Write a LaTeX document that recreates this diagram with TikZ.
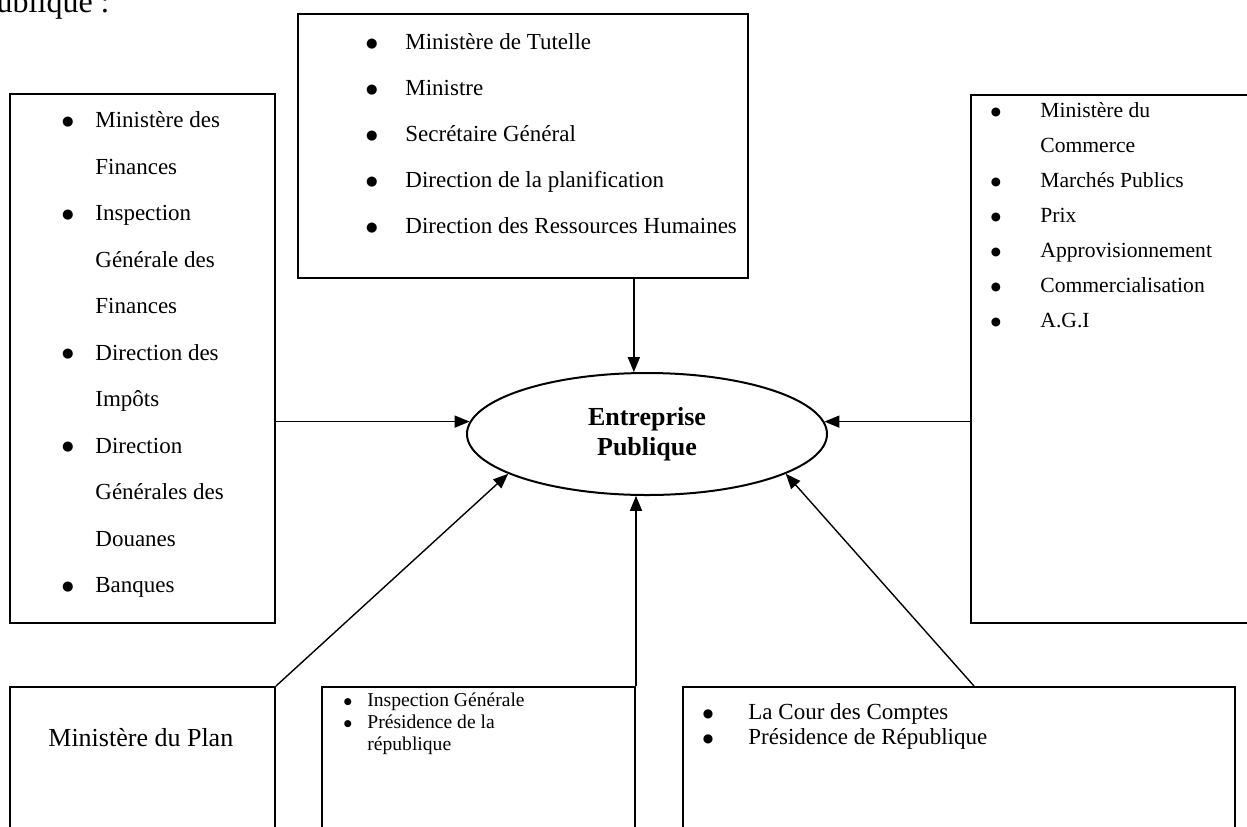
\documentclass[tikz,border=0pt]{standalone}
\usepackage{fontspec}
\setmainfont{Liberation Serif}
\newfontfamily\dotfont{DejaVu Sans}
\usetikzlibrary{arrows.meta,calc,fit,shapes.geometric}

\tikzset{
  box/.style={draw, line width=1pt, rectangle, inner sep=0pt},
  hub/.style={draw, line width=1pt, ellipse, inner sep=0pt,
    minimum width=180pt, minimum height=61pt, align=center,
    font=\fontsize{13}{15}\selectfont\bfseries},
  item/.style={anchor=mid west, inner sep=0pt, font=\fontsize{11.5}{13}\selectfont},
  bigitem/.style={anchor=mid west, inner sep=0pt, font=\fontsize{13}{15}\selectfont},
  smallitem/.style={anchor=mid west, inner sep=0pt, font=\fontsize{10.8}{12}\selectfont},
  tinyitem/.style={anchor=mid west, inner sep=0pt, font=\fontsize{9.8}{11}\selectfont},
  dot/.style={anchor=center, inner sep=0pt, font=\fontsize{6.6}{7}\dotfont},
  middot/.style={anchor=center, inner sep=0pt, font=\fontsize{6}{7}\dotfont},
  smalldot/.style={anchor=center, inner sep=0pt, font=\fontsize{5.8}{7}\dotfont},
  tinydot/.style={anchor=center, inner sep=0pt, font=\fontsize{4.6}{6}\dotfont},
  link/.style={line width=0.7pt, -{Triangle[length=7.5pt,width=6pt]}},
}

\begin{document}
\begin{tikzpicture}[x=0.5pt, y=-0.5pt]
\useasboundingbox (0,0) rectangle (1247,826);

% heading line running into the top of the page
\node[anchor=base east, inner sep=0pt, font=\fontsize{16}{18}\selectfont] (head) at (110,12) {ublique :};

% boxes
\node[box, fit={(298,14) (748,278)}] (tut) {};
\node[box, fit={(10,94) (275,623)}] (fin) {};
\node[box, fit={(971,95) (1262,623)}] (com) {};
\node[box, fit={(10,687) (275,850)}] (plan) {};
\node[box, fit={(322,687) (635,850)}] (insp) {};
\node[box, fit={(683,687) (1235,850)}] (cour) {};

% central ellipse
\node[hub] (ep) at (647,434) {Entreprise\\Publique};

% tutelle
\foreach \t [count=\i] in {Ministère de Tutelle, Ministre, Secrétaire Général,
    Direction de la planification, Direction des Ressources Humaines} {
  \node[dot] (tutb\i) at (372,{44+(\i-1)*46}) {●};
  \node[item] (tutt\i) at (405,{45+(\i-1)*46}) {\t};
}

% finances
\foreach \t [count=\i] in {Ministère des, Finances, Inspection, Générale des, Finances,
    Direction des, Impôts, Direction, Générales des, Douanes, Banques} {
  \node[item] (fint\i) at (95,{123+(\i-1)*46.5}) {\t};
}
\foreach \i in {1,3,6,8,11} {
  \node[dot] (finb\i) at (68,{122+(\i-1)*46.5}) {●};
}

% commerce
\foreach \t [count=\i] in {Ministère du, Commerce, Marchés Publics, Prix,
    Approvisionnement, Commercialisation, A.G.I} {
  \node[smallitem] (comt\i) at (1040,{113+(\i-1)*35}) {\t};
}
\foreach \i in {1,3,4,5,6,7} {
  \node[smalldot] (comb\i) at (996,{112+(\i-1)*35}) {●};
}

% plan
\node[bigitem] (plant) at (48,742) {Ministère du Plan};

% inspection generale
\node[tinydot] (inspb1) at (348,702) {●};
\node[tinyitem] (inspt1) at (367,702) {Inspection Générale};
\node[tinydot] (inspb2) at (348,724) {●};
\node[tinyitem] (inspt2) at (367,724) {Présidence de la};
\node[tinyitem] (inspt3) at (367,746) {république};

% cour des comptes
\node[middot] (courb1) at (708,714) {●};
\node[item] (court1) at (748,715) {La Cour des Comptes};
\node[middot] (courb2) at (708,739) {●};
\node[item] (court2) at (748,740) {Présidence de République};

% connectors
\draw[link] (ep.102 |- tut.south) -- (ep.102);
\draw[link] (ep.176 -| fin.east) -- (ep.176);
\draw[link] (ep.4 -| com.west) -- (ep.4);
\draw[link] (insp.north east) -- (insp.north east |- ep.258);
\draw[link] (plan.north east) -- (ep.196);
\coordinate (cr) at ($(cour.north west)+(292,0)$);
\draw[link] (cr) -- (ep.344);
\end{tikzpicture}
\end{document}
